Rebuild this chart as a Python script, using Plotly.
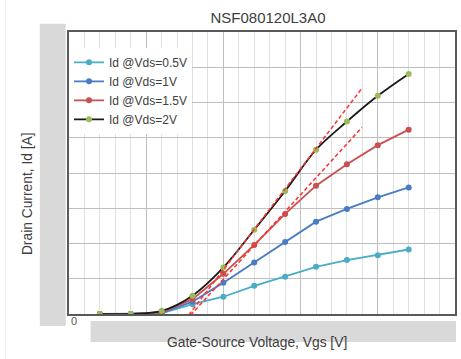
import plotly.graph_objects as go

# ---- data (grid units) ----
vgs = [2, 4, 6, 8, 10, 12, 14, 16, 18, 20, 22]
id_vds_05 = [0, 0, 0.02, 0.28, 0.49, 0.80, 1.06, 1.34, 1.53, 1.67, 1.83]
id_vds_1 = [0, 0, 0.03, 0.35, 0.89, 1.46, 2.04, 2.62, 2.98, 3.31, 3.59]
id_vds_15 = [0, 0, 0.05, 0.42, 1.14, 1.96, 2.84, 3.64, 4.25, 4.79, 5.23]
id_vds_2 = [0, 0, 0.09, 0.52, 1.32, 2.39, 3.49, 4.66, 5.46, 6.19, 6.81]
tangent1_x = [7.51, 18.97]
tangent1_y = [-0.17, 6.40]
tangent2_x = [7.59, 18.97]
tangent2_y = [-0.17, 5.29]
series_names = ["Id @Vds=0.5V", "Id @Vds=1V", "Id @Vds=1.5V", "Id @Vds=2V"]

W, H = 461, 359
L, R, T, B = 69.3, 457.0, 32.3, 314.0


def px(x):
    return (x - L) / (R - L)


def py(y):
    return (B - y) / (B - T)


fig = go.Figure()
fig.add_trace(go.Scatter(x=vgs, y=id_vds_05, name=series_names[0], mode="lines+markers",
                         line=dict(color="#4bacc6", width=1.8), marker=dict(color="#4bacc6", size=6)))
fig.add_trace(go.Scatter(x=vgs, y=id_vds_1, name=series_names[1], mode="lines+markers",
                         line=dict(color="#4a7cc4", width=1.8), marker=dict(color="#4a7cc4", size=6)))
fig.add_trace(go.Scatter(x=vgs, y=id_vds_15, name=series_names[2], mode="lines+markers",
                         line=dict(color="#c9504f", width=1.8), marker=dict(color="#c9504f", size=6)))
fig.add_trace(go.Scatter(x=vgs, y=id_vds_2, name=series_names[3], mode="lines+markers",
                         line=dict(color="#1a1a1a", width=1.8, shape="spline"),
                         marker=dict(color="#9bbb59", size=6)))
for tx, ty in ((tangent1_x, tangent1_y), (tangent2_x, tangent2_y)):
    fig.add_trace(go.Scatter(x=tx, y=ty, mode="lines", showlegend=False, hoverinfo="skip",
                             line=dict(color="#ff3030", width=1.5, dash="4px,2.5px")))

grey = "#d9d9d9"
shapes = [
    dict(type="rect", xref="paper", yref="paper", x0=px(40), x1=px(66), y0=py(326), y1=py(24),
         fillcolor=grey, line=dict(width=0), layer="above"),
    dict(type="rect", xref="paper", yref="paper", x0=px(91), x1=px(458), y0=py(342), y1=py(321),
         fillcolor=grey, line=dict(width=0), layer="above"),
    dict(type="line", xref="paper", yref="paper", x0=px(5.5), x1=px(5.5), y0=py(359), y1=py(0),
         line=dict(color="#f2f2f2", width=1)),
]

annotations = [
    dict(text="0", xref="paper", yref="paper", x=px(69.7), y=py(328.5), showarrow=False,
         font=dict(size=11, color="#595959")),
    dict(text="Drain Current, Id [A]", xref="paper", yref="paper", x=px(18.3), y=py(193.5),
         textangle=-90, showarrow=False, font=dict(size=13.8, color="#404040")),
    dict(text="Gate-Source Voltage, Vgs [V]", xref="paper", yref="paper", x=px(258), y=py(352),
         showarrow=False, font=dict(size=13.8, color="#404040")),
]

fig.update_layout(
    width=W, height=H,
    margin=dict(l=L, r=W - R, t=T, b=H - B),
    paper_bgcolor="white", plot_bgcolor="white",
    font=dict(family="Liberation Sans, Arial, sans-serif", color="#404040"),
    title=dict(text="NSF080120L3A0", xref="container", yref="container", x=268 / W, xanchor="center",
               y=(H - 17.5) / H, yanchor="middle", font=dict(size=15, color="#404040")),
    showlegend=True,
    legend=dict(x=0.0, y=0.944, xanchor="left", yanchor="top", bgcolor="white",
                font=dict(size=12, color="#404040"), tracegroupgap=0),
    shapes=shapes,
    annotations=annotations,
)
fig.update_xaxes(range=[0, 25], dtick=5, showticklabels=False, ticks="",
                 showgrid=True, gridcolor="#bfbfbf", gridwidth=1,
                 minor=dict(dtick=1, showgrid=True, gridcolor="#e0e0e0", gridwidth=1),
                 showline=True, mirror=True, linecolor="#595959", linewidth=1.5, zeroline=False)
fig.update_yaxes(range=[0, 8], dtick=1, showticklabels=False, ticks="",
                 showgrid=True, gridcolor="#bfbfbf", gridwidth=1,
                 showline=True, mirror=True, linecolor="#595959", linewidth=1.5, zeroline=False)

fig.write_html("out.html")
